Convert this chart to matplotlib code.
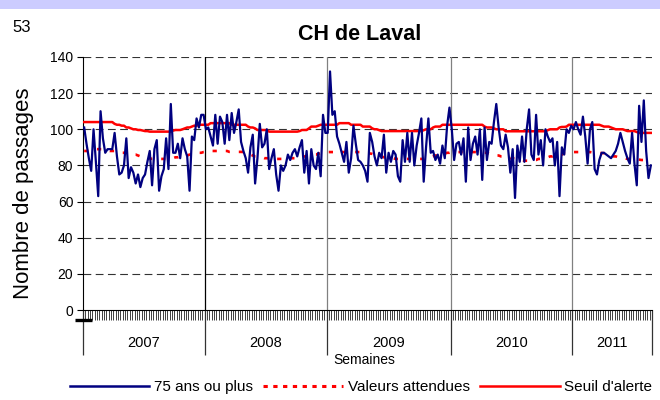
import numpy as np
import matplotlib
matplotlib.use("Agg")
import matplotlib.pyplot as plt
from matplotlib.lines import Line2D
from matplotlib.patches import Rectangle
from matplotlib.transforms import blended_transform_factory

plt.rcParams['font.family'] = ['Liberation Sans', 'DejaVu Sans']

# ---------------- data ----------------
years = ["2007", "2008", "2009", "2010", "2011"]
weeks_per_year = [52, 52, 53, 52, 34]

obs_2007 = [101, 92, 84, 77, 100, 82, 63, 110, 95, 87, 89, 89, 89,
            98, 85, 75, 76, 80, 95, 73, 79, 76, 70, 75, 68, 73,
            75, 82, 88, 69, 89, 94, 66, 74, 78, 95, 78, 114, 87,
            87, 92, 84, 95, 89, 85, 66, 96, 94, 106, 101, 108, 108]
obs_2008 = [100, 101, 96, 91, 108, 92, 107, 104, 92, 108, 94, 109, 98,
            104, 111, 93, 88, 84, 76, 90, 97, 70, 84, 103, 90, 92,
            100, 78, 84, 89, 75, 66, 80, 77, 80, 86, 83, 87, 89,
            85, 90, 94, 76, 88, 70, 89, 80, 78, 87, 74, 108, 98]
obs_2009 = [98, 132, 108, 110, 96, 92, 87, 82, 93, 76, 84, 102, 92,
            83, 82, 80, 77, 71, 98, 93, 85, 80, 87, 84, 97, 76,
            87, 82, 88, 86, 74, 71, 94, 82, 98, 82, 98, 80, 91,
            98, 106, 71, 90, 106, 87, 88, 83, 86, 81, 91, 84, 102, 112]
obs_2010 = [100, 83, 92, 93, 86, 95, 71, 101, 83, 92, 96, 86, 100,
            72, 101, 83, 93, 92, 104, 114, 101, 91, 89, 97, 90, 76,
            89, 62, 91, 82, 96, 82, 100, 111, 86, 83, 108, 86, 94,
            80, 100, 96, 93, 95, 80, 93, 63, 90, 86, 100, 98, 102]
obs_2011 = [100, 104, 100, 97, 107, 96, 81, 100, 104, 78, 75, 83, 87,
            87, 86, 85, 84, 86, 88, 92, 98, 93, 88, 84, 81, 98,
            81, 69, 113, 93, 116, 88, 73, 80]

exp_2007 = [88, 88, 88, 88, 88.5, 89, 89, 89, 89, 89, 88.5, 88, 88,
            88, 87.5, 87.5, 87, 87, 87, 87, 86.5, 86, 86, 85.5, 85, 85,
            84.5, 84, 84, 83.6, 83.6, 83.6, 83.6, 83.6, 83.6, 83.6, 84, 84, 84,
            84.5, 84.5, 85, 85, 85.5, 85.5, 86, 86, 86.5, 86.5, 87, 87, 87.4]
exp_2008 = [87.5, 87.5, 88, 88, 88, 88, 88, 88, 88, 88, 87.5, 87.5, 87.5,
            87.5, 87.5, 87.5, 87.4, 87, 86.5, 86, 85.5, 85, 85, 84.5, 84.5, 84,
            84, 84, 84, 83.6, 83.6, 83.6, 83.6, 83.6, 83.6, 83.6, 84, 84, 84,
            84, 84.5, 84.5, 85, 85, 85.5, 85.5, 86, 86, 86.5, 86.8, 87, 87]
exp_2009 = [87.4, 87.4, 87.4, 87.4, 87.4, 87.4, 87.4, 87.4, 87.4, 87.4, 87.4, 87.4, 87.4,
            87.4, 87.4, 87.2, 87, 86.8, 86.6, 86.4, 86, 85.5, 85, 85, 84.5, 84.5,
            84, 84, 84, 83.6, 83.6, 83.6, 83.6, 83.6, 83.6, 83.6, 83.6, 83.6, 83.6,
            83.6, 83.6, 83.6, 84, 84, 84.5, 85, 85.5, 85.5, 86, 86.5, 86.5, 87, 87]
exp_2010 = [87.4, 87.4, 87.4, 87.4, 87.4, 87.4, 87.4, 87.4, 87.4, 87.4, 87.4, 87.4, 87.2,
            87.2, 87, 87, 86.5, 86, 86, 85.5, 85.5, 85, 85, 84.5, 84.5, 84,
            84, 83.6, 83.6, 83, 83, 82.6, 82.6, 82.6, 82.6, 83, 83, 83.6, 83.6,
            84, 84, 84.5, 85, 85, 85.5, 85.5, 86, 86, 86.8, 86.8, 87, 87.4]
exp_2011 = [87.4, 87.4, 87.4, 87.4, 87.4, 87.4, 87.4, 87.4, 87.2, 87, 87, 87, 86.8,
            86.8, 86.5, 86, 85.5, 85, 85, 84.5, 84.5, 84, 84, 83.6, 83.6, 83.6,
            83.6, 83.4, 83.2, 83, 83, 83, 83, 83]

thr_2007 = [104, 104, 104, 104, 104, 104, 104, 104, 104, 104, 104, 104, 104,
            103, 102.5, 102.5, 102, 102, 101, 101, 100.5, 100, 100, 99.6, 99.6, 99.3,
            99, 99, 98.7, 98.7, 98.7, 98.7, 98.7, 98.7, 98.7, 98.7, 98.7, 98.7, 99.3,
            99.6, 99.6, 99.6, 100, 100.5, 101, 101, 101.5, 102, 102, 102.5, 102.5, 102.5]
thr_2008 = [102.5, 102.5, 103.4, 103.4, 103.4, 103.4, 103.4, 103.4, 103.4, 103.4, 103.4, 102.5, 102.5,
            102.5, 102.5, 102.5, 102.5, 102.5, 101.5, 101, 101, 100.5, 99.6, 99.6, 99.6, 99.6,
            99.6, 98.7, 98.7, 98.7, 98.7, 98.7, 98.7, 98.7, 98.7, 98.7, 98.7, 98.7, 98.7,
            98.7, 99, 99.6, 99.6, 99.6, 100.5, 101.5, 101.5, 101.5, 102, 102.5, 102.5, 102.5]
thr_2009 = [102.5, 102.5, 102.5, 102.5, 102.5, 103.4, 103.4, 103.4, 103.4, 103.4, 102.5, 102.5, 102.5,
            102.5, 102.5, 101.5, 101.5, 101.5, 101.5, 100.5, 100, 100, 99.5, 99, 99, 99,
            99, 99, 99, 99, 99, 99, 99, 99, 99, 99, 99, 99, 99,
            99, 99, 99.5, 100, 100, 100, 101, 101.5, 101.5, 101.5, 102.5, 102.5, 102.5, 102.5]
thr_2010 = [102.5, 102.5, 102.5, 102.5, 102.5, 102.5, 102.5, 102.5, 102.5, 102.5, 102.5, 102.5, 102.5,
            102.5, 101.5, 101, 101, 101, 100.5, 100, 100, 100, 100, 98.9, 98.9, 98.9,
            98.9, 98.9, 98.9, 98.9, 98.9, 98.9, 98.9, 98.9, 98.9, 98.9, 98.9, 98.9, 98.9,
            98.9, 98.9, 99.5, 100, 100, 100, 100, 101, 101.3, 101.3, 101.5, 102.5, 102.5]
thr_2011 = [102.5, 102.5, 102.5, 102.5, 102.5, 102.5, 102.5, 102.5, 102.5, 102.5, 102.5, 102.5, 102,
            101.5, 101.5, 101.5, 101, 100.5, 100, 100, 100, 100, 99.5, 99, 99, 99,
            99, 98.5, 98, 98, 98, 98, 98, 98]

observed = obs_2007 + obs_2008 + obs_2009 + obs_2010 + obs_2011
expected = exp_2007 + exp_2008 + exp_2009 + exp_2010 + exp_2011
threshold = thr_2007 + thr_2008 + thr_2009 + thr_2010 + thr_2011

series_labels = ["75 ans ou plus", "Valeurs attendues", "Seuil d'alerte"]
yticks = [0, 20, 40, 60, 80, 100, 120, 140]

# ---------------- figure ----------------
W, H = 660, 400
fig = plt.figure(figsize=(W / 100, H / 100), dpi=100)
fig.patch.set_facecolor('white')

# top band
fig.add_artist(Rectangle((0, 1 - 9 / H), 1, 9 / H, transform=fig.transFigure,
                         facecolor='#CCCCFF', edgecolor='none'))

ax = fig.add_axes([83 / W, 1 - 310 / H, 569 / W, 253 / H])
n = len(observed)
x = np.arange(n)

ax.set_xlim(-0.5, n - 0.5)
ax.set_ylim(yticks[0], yticks[-1])

# gridlines
for yv in yticks[1:]:
    ax.axhline(yv, color='#333333', lw=0.8, linestyle=(0, (7, 4)), zorder=1)

bounds = np.concatenate([[0], np.cumsum(weeks_per_year)]) - 0.5
for i, b in enumerate(bounds[1:-1]):
    ax.axvline(b, color='black' if i == 0 else '#808080', lw=0.9, zorder=1)

ax.plot(x, threshold, color='#FF0000', lw=1.8, zorder=3, solid_joinstyle='round')
ax.plot(x, expected, color='#FF0000', lw=1.9, linestyle=(0, (1.6, 3.4)), zorder=3)
ax.plot(x, observed, color='#000080', lw=1.6, zorder=4, solid_joinstyle='round')

# axes styling
for s in ['top', 'right']:
    ax.spines[s].set_visible(False)
ax.spines['left'].set_color('black')
ax.spines['left'].set_linewidth(0.8)
ax.spines['bottom'].set_color('black')
ax.spines['bottom'].set_linewidth(0.8)

ax.set_yticks(yticks)
ax.set_yticklabels([str(v) for v in yticks], fontsize=10)
ax.tick_params(axis='y', length=4, width=0.8, pad=3, colors='black')

ax.set_xticks(bounds)
ax.set_xticklabels([''] * len(bounds))
ax.set_xticks(np.arange(0.5, n - 1, 1.0), minor=True)
ax.tick_params(axis='x', which='major', length=32.5, width=0.9, color='#333333')
ax.tick_params(axis='x', which='minor', length=7.5, width=0.65, color='#333333')

trans = blended_transform_factory(ax.transData, ax.transAxes)
for i, yr in enumerate(years):
    cx = (bounds[i] + bounds[i + 1]) / 2
    ax.text(cx, -33 / 253, yr, transform=trans, ha='center', va='center', fontsize=10.5)

ax.text(0.495, -50 / 253, "Semaines", transform=ax.transAxes, ha='center', va='center',
        fontsize=10)

# small black mark bottom-left
fig.add_artist(Line2D([75 / W, 92 / W], [1 - 319.5 / H, 1 - 319.5 / H],
                      transform=fig.transFigure, color='black', lw=2.4,
                      solid_capstyle='butt'))

# texts
fig.text(360 / W, 1 - 34 / H, "CH de Laval", ha='center', va='center',
         fontsize=15.5, fontweight='bold')
fig.text(22 / W, 1 - 28 / H, "53", ha='center', va='center', fontsize=12)
fig.text(24 / W, 1 - 193 / H, "Nombre de passages", rotation=90, ha='center',
         va='center', fontsize=16)

handles = [Line2D([], [], color='#000080', lw=1.8),
           Line2D([], [], color='#FF0000', lw=2.2, linestyle=(0, (1.4, 1.8))),
           Line2D([], [], color='#FF0000', lw=1.8)]
fig.legend(handles, series_labels, loc='center', bbox_to_anchor=(361 / W, 1 - 387 / H),
           ncol=3, frameon=False, fontsize=11, handlelength=5.2, handletextpad=0.3,
           columnspacing=0.7, borderpad=0, borderaxespad=0)

fig.savefig("out.png", dpi=100, facecolor='white')
